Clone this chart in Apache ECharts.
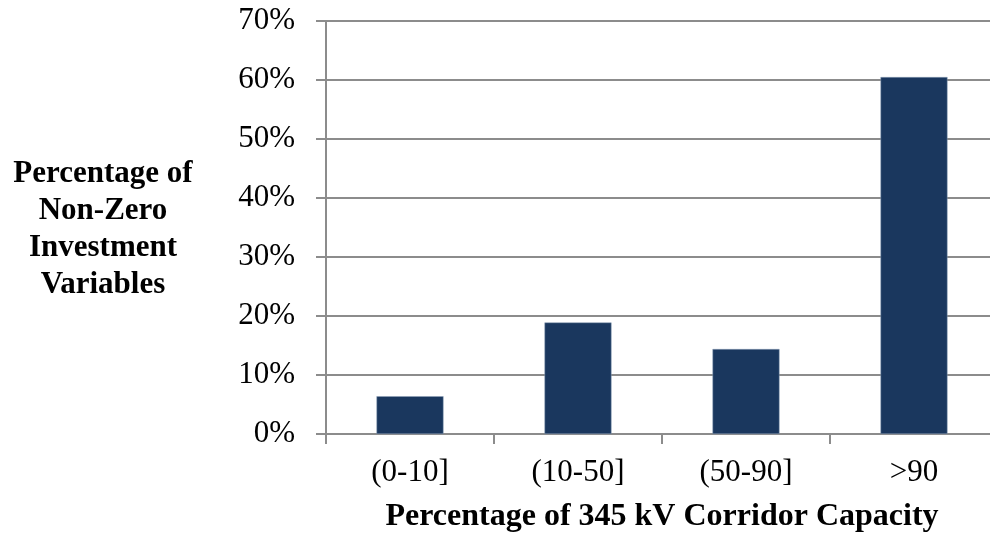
<!DOCTYPE html>
<html>
<head>
<meta charset="utf-8">
<script src="https://cdn.jsdelivr.net/npm/echarts@6/dist/echarts.min.js"></script>
<style>
  html, body { margin: 0; padding: 0; background: #ffffff; }
  #chart { width: 990px; height: 536px; }
</style>
</head>
<body>
<div id="chart"></div>
<script>
// Share of non-zero investment variables per corridor-capacity bin
const categories = ['(0-10]', '(10-50]', '(50-90]', '>90'];
const shares = [6.4, 18.9, 14.4, 60.5];
const yTicks = [0, 10, 20, 30, 40, 50, 60, 70];

const serif = '"Liberation Serif", "Times New Roman", serif';
const gridColor = '#8c8c8c';

const chart = echarts.init(document.getElementById('chart'), null, { renderer: 'canvas' });

chart.setOption({
  animation: false,
  backgroundColor: '#ffffff',
  grid: {
    left: 326, top: 21, width: 672, height: 413,
    containLabel: false,
    outerBoundsMode: 'none'
  },
  xAxis: {
    type: 'category',
    data: categories,
    name: 'Percentage of 345 kV Corridor Capacity',
    nameLocation: 'middle',
    nameGap: 67,
    nameMoveOverlap: false,
    nameTextStyle: { color: '#000', fontFamily: serif, fontSize: 32, fontWeight: 'bold' },
    axisLine: { show: true, lineStyle: { color: gridColor, width: 2 } },
    axisTick: { show: true, length: 10, lineStyle: { color: gridColor, width: 2 } },
    axisLabel: { color: '#000', fontFamily: serif, fontSize: 31, margin: 23 },
    splitLine: { show: false }
  },
  yAxis: {
    type: 'value',
    min: yTicks[0],
    max: yTicks[yTicks.length - 1],
    interval: 10,
    axisLine: { show: true, lineStyle: { color: gridColor, width: 2 } },
    axisTick: { show: true, length: 10, inside: false, lineStyle: { color: gridColor, width: 2 } },
    axisLabel: { color: '#000', fontFamily: serif, fontSize: 31, margin: 31, formatter: v => v + '%' },
    splitLine: { show: true, lineStyle: { color: gridColor, width: 2 } }
  },
  series: [{
    type: 'bar',
    data: shares,
    barWidth: 67,
    itemStyle: { color: '#1a375e', borderColor: '#8ea0b8', borderWidth: 0.5 }
  }],
  graphic: [
    {
      type: 'text',
      style: {
        x: 103, y: 229,
        text: 'Percentage of\nNon-Zero\nInvestment\nVariables',
        font: 'bold 31px ' + serif,
        fill: '#000',
        textAlign: 'center',
        textVerticalAlign: 'middle',
        lineHeight: 37
      }
    }
  ]
});
</script>
</body>
</html>
